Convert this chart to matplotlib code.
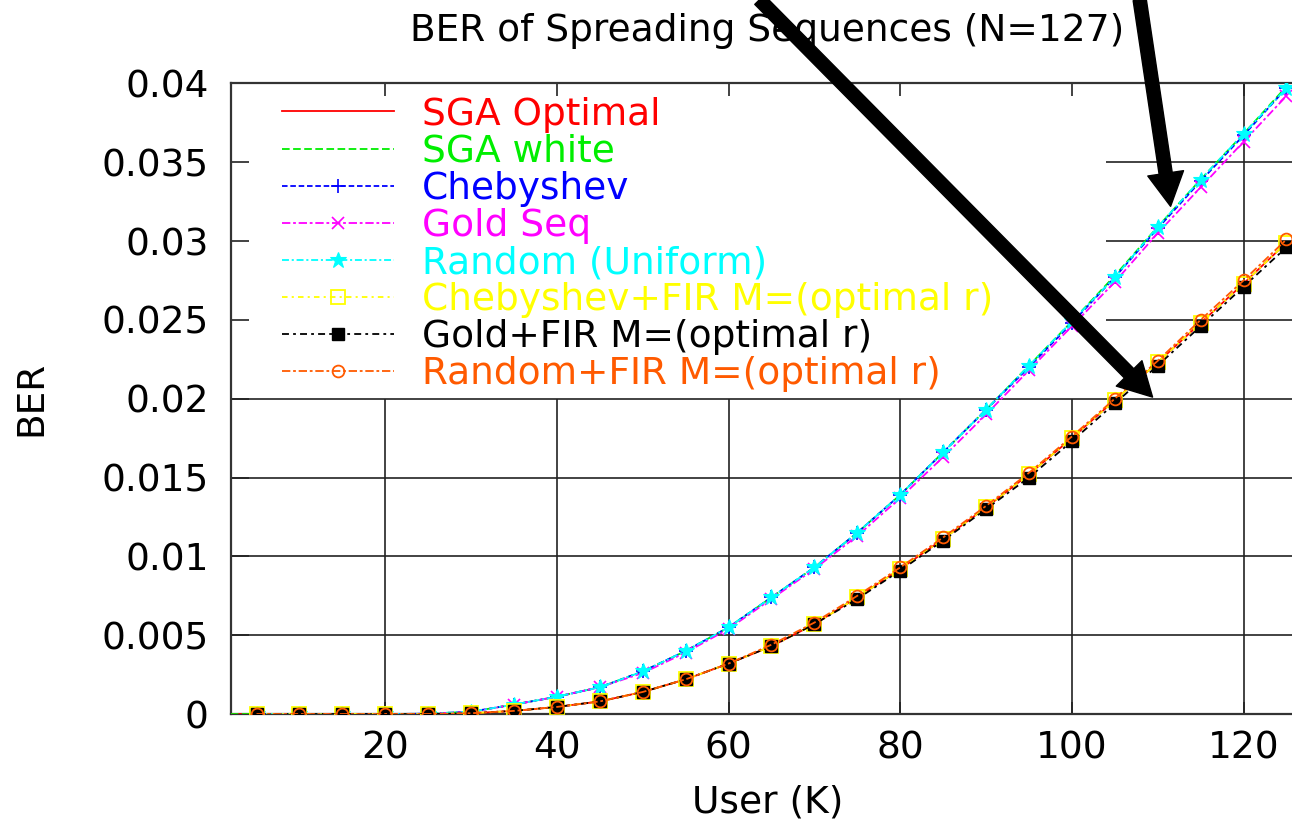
import matplotlib

matplotlib.use("Agg")
import matplotlib.pyplot as plt

plt.rcParams["font.family"] = ["DejaVu Sans"]
plt.rcParams["lines.scale_dashes"] = False

# users K (marker series) and the two SGA curves, which start at K=2
K = [5, 10, 15, 20, 25, 30, 35, 40, 45, 50, 55, 60, 65, 70, 75,
     80, 85, 90, 95, 100, 105, 110, 115, 120, 125]
K_sga = [2] + K

sga_optimal = [0, 0, 0, 0, 0, 0, 0.00005, 0.0002, 0.00045, 0.0008, 0.0014, 0.0022, 0.0032,
               0.0043, 0.0057, 0.0074, 0.0092, 0.0111, 0.0131, 0.0152, 0.0175, 0.0199,
               0.0223, 0.0248, 0.0273, 0.0299]
sga_white = [0, 0, 0, 0, 0, 0.00002, 0.00015, 0.0006, 0.0011, 0.0017, 0.0027, 0.0040, 0.0055,
             0.0074, 0.0093, 0.0115, 0.0139, 0.0166, 0.0193, 0.0221, 0.0249, 0.0278,
             0.0309, 0.0339, 0.0368, 0.0398]
chebyshev = [0, 0, 0, 0, 0.00002, 0.00015, 0.0006, 0.0011, 0.0017, 0.0027, 0.0040, 0.0055,
             0.0074, 0.0093, 0.0115, 0.0139, 0.0166, 0.0193, 0.0220, 0.0248, 0.0277,
             0.0308, 0.0338, 0.0367, 0.0397]
gold_seq = [0, 0, 0, 0, 0.00002, 0.00014, 0.0006, 0.0011, 0.0017, 0.0026, 0.0039, 0.0054,
            0.0073, 0.0092, 0.0113, 0.0137, 0.0163, 0.0190, 0.0218, 0.0246, 0.0274,
            0.0305, 0.0334, 0.0363, 0.0392]
random_uni = [0, 0, 0, 0, 0.00002, 0.00015, 0.0006, 0.0011, 0.0017, 0.0027, 0.0040, 0.0055,
              0.0074, 0.0093, 0.0115, 0.0139, 0.0166, 0.0193, 0.0221, 0.0249, 0.0277,
              0.0309, 0.0339, 0.0368, 0.0397]
cheb_fir = [0, 0, 0, 0, 0, 0.00005, 0.0002, 0.00045, 0.0008, 0.0014, 0.0022, 0.0032,
            0.0043, 0.0057, 0.0074, 0.0092, 0.0111, 0.0131, 0.0152, 0.0175, 0.0199,
            0.0223, 0.0248, 0.0273, 0.0299]
gold_fir = [0, 0, 0, 0, 0, 0.00005, 0.0002, 0.00045, 0.0008, 0.0014, 0.0022, 0.0032,
            0.0043, 0.0057, 0.0073, 0.0091, 0.0110, 0.0130, 0.0150, 0.0173, 0.0197,
            0.0221, 0.0246, 0.0271, 0.0296]
random_fir = [0, 0, 0, 0, 0, 0.00005, 0.0002, 0.00045, 0.0008, 0.0014, 0.0022, 0.0032,
              0.0044, 0.0058, 0.0075, 0.0093, 0.0112, 0.0132, 0.0153, 0.0176, 0.0200,
              0.0224, 0.0250, 0.0275, 0.0301]

labels = ["SGA Optimal", "SGA white", "Chebyshev", "Gold Seq", "Random (Uniform)",
          "Chebyshev+FIR M=(optimal r)", "Gold+FIR M=(optimal r)", "Random+FIR M=(optimal r)"]
colors = ["#ff0000", "#00ee00", "#0000ff", "#ff00ff", "#00ffff", "#ffff00", "#000000", "#ff5a00"]

x_ticks = [20, 40, 60, 80, 100, 120]
y_ticks = [0, 0.005, 0.01, 0.015, 0.02, 0.025, 0.03, 0.035, 0.04]

# annotation arrows (tail, tip) in data coords
arrows = [((63.6, 0.0453), (109.4, 0.0201)),
          ((107.9, 0.0453), (111.5, 0.0322))]

fig = plt.figure(figsize=(12.92, 8.25), dpi=100)
ax = fig.add_axes([0.1786, 0.1345, 0.8304, 0.7645])
ax.set_xlim(2, 127)
ax.set_ylim(0, 0.04)

styles = [
    dict(ls="-"),
    dict(dashes=(5.5, 2.5)),
    dict(dashes=(4, 2), marker="+", ms=10, mew=1.2),
    dict(dashes=(6, 2, 2, 2), marker="x", ms=8, mew=1.2),
    dict(dashes=(5, 2, 1.5, 2), marker="*", ms=12, mew=0.8),
    dict(dashes=(4, 3, 1.5, 3), marker="s", ms=10, mfc="none", mew=1.3),
    dict(dashes=(5, 3, 2, 3), marker="s", ms=8.5, mew=1),
    dict(dashes=(6, 2, 2, 2), marker="o", ms=8.5, mfc="none", mew=1.3),
]
series = [(K_sga, sga_optimal), (K_sga, sga_white), (K, chebyshev), (K, gold_seq),
          (K, random_uni), (K, cheb_fir), (K, gold_fir), (K, random_fir)]

for (xs, ys), lab, c, st in zip(series, labels, colors, styles):
    ax.plot(xs, ys, color=c, lw=1.3, label=lab, zorder=3, **st)

# grid drawn by hand so it stays out of the key area, like gnuplot
key_x, key_y = 104, 0.02
for yt in y_ticks[1:-1]:
    ax.hlines(yt, key_x if yt > key_y else 2, 127, color="#222222", lw=1.2, zorder=1)
for xt in x_ticks:
    ax.vlines(xt, 0, 0.04 if xt > key_x else key_y, color="#222222", lw=1.2, zorder=1)

ax.set_xticks(x_ticks)
ax.set_yticks(y_ticks)
ax.set_yticklabels(["0", "0.005", "0.01", "0.015", "0.02", "0.025", "0.03", "0.035", "0.04"])
ax.tick_params(axis="x", direction="in", top=True, length=9, width=1.2, pad=12,
               labelsize=27, color="#222222")
ax.tick_params(axis="y", direction="in", right=False, length=13, width=1.2, pad=16,
               labelsize=27, color="#222222")
for side in ["left", "bottom", "top"]:
    ax.spines[side].set_linewidth(1.6)
    ax.spines[side].set_color("#333333")
ax.spines["right"].set_visible(False)

ax.set_title("BER of Spreading Sequences (N=127)", fontsize=27, pad=30.5)
ax.set_xlabel("User (K)", fontsize=27)
ax.set_ylabel("BER", fontsize=27)
ax.xaxis.set_label_coords(0.5, -0.112)
ax.yaxis.set_label_coords(-0.169, 0.5)

leg = ax.legend(loc="upper left", bbox_to_anchor=(0.0475, 0.979), frameon=False,
                fontsize=27, handlelength=3.0, handletextpad=0.75, labelspacing=0.03,
                borderpad=0, borderaxespad=0, numpoints=1)
for txt, c in zip(leg.get_texts(), colors):
    txt.set_color(c)

for tail, tip in arrows:
    ax.annotate("", xy=tip, xytext=tail, annotation_clip=False, zorder=10,
                arrowprops=dict(arrowstyle="simple,head_length=2.4,head_width=2.6,tail_width=0.95",
                                mutation_scale=10, color="black", shrinkA=0, shrinkB=0))

fig.savefig("out.png", dpi=100)
